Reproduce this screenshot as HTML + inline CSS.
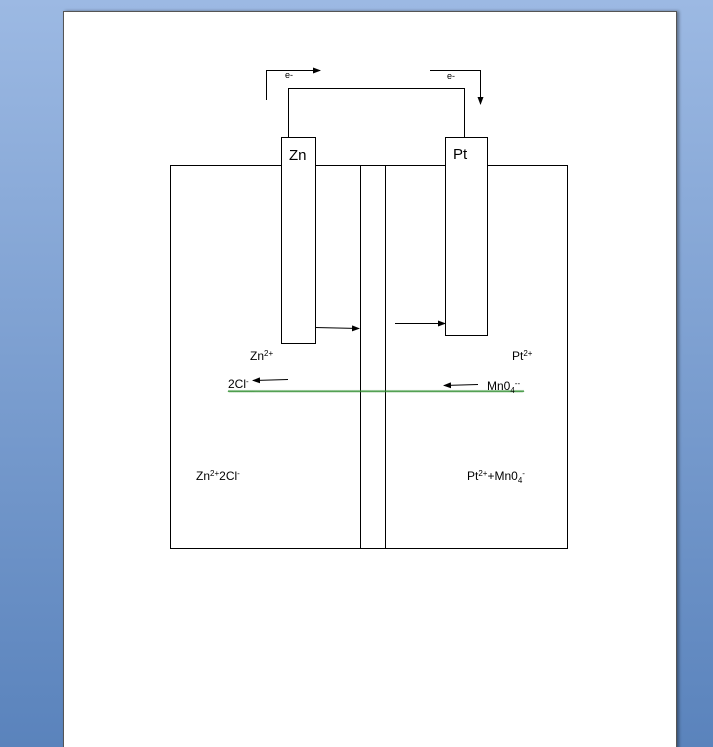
<!DOCTYPE html>
<html><head><meta charset="utf-8"><style>
html,body{margin:0;padding:0;width:713px;height:747px;overflow:hidden;background:linear-gradient(#9cb9e3,#5a83bc);position:relative}
.page{position:absolute;left:63px;top:11px;width:612px;height:740px;background:#fff;border:1px solid #555;border-bottom:none;box-shadow:2px 0 3px rgba(0,0,0,0.4);}
svg{position:absolute;left:0;top:0}
text{font-family:"Liberation Sans",sans-serif;fill:#000}
</style></head><body>
<div class="page"></div>
<svg width="713" height="747" viewBox="0 0 713 747">
<defs><marker id="a" markerWidth="8" markerHeight="6" refX="7" refY="3" orient="auto" markerUnits="userSpaceOnUse"><path d="M0,0L8,3L0,6z" fill="#000"/></marker></defs>
<g stroke="#000" stroke-width="1" fill="none">
<rect x="170.5" y="165.5" width="397" height="383"/>
<line x1="360.5" y1="165" x2="360.5" y2="548"/>
<line x1="385.5" y1="165" x2="385.5" y2="548"/>
<rect x="281.5" y="137.5" width="34" height="206" fill="#fff"/>
<rect x="445.5" y="137.5" width="42" height="198" fill="#fff"/>
<polyline points="288.5,137 288.5,88.5 464.5,88.5 464.5,137"/>
<polyline points="266.5,100 266.5,70.5 320,70.5" marker-end="url(#a)"/>
<polyline points="430,70.5 480.5,70.5 480.5,104" marker-end="url(#a)"/>
<line x1="315" y1="327.5" x2="359" y2="328.5" marker-end="url(#a)"/>
<line x1="395" y1="323.5" x2="445" y2="323.5" marker-end="url(#a)"/>
<line x1="288" y1="379.5" x2="253" y2="380.5" marker-end="url(#a)"/>
<line x1="478" y1="384.5" x2="444" y2="385.5" marker-end="url(#a)"/>
</g>
<polyline fill="none" stroke="#2a8a2a" stroke-width="0.8" points="228,392 229,390.5 230,392 231,390.5 232,392 233,390.5 234,392 235,390.5 236,392 237,390.5 238,392 239,390.5 240,392 241,390.5 242,392 243,390.5 244,392 245,390.5 246,392 247,390.5 248,392 249,390.5 250,392 251,390.5 252,392 253,390.5 254,392 255,390.5 256,392 257,390.5 258,392 259,390.5 260,392 261,390.5 262,392 263,390.5 264,392 265,390.5 266,392 267,390.5 268,392 269,390.5 270,392 271,390.5 272,392 273,390.5 274,392 275,390.5 276,392 277,390.5 278,392 279,390.5 280,392 281,390.5 282,392 283,390.5 284,392 285,390.5 286,392 287,390.5 288,392 289,390.5 290,392 291,390.5 292,392 293,390.5 294,392 295,390.5 296,392 297,390.5 298,392 299,390.5 300,392 301,390.5 302,392 303,390.5 304,392 305,390.5 306,392 307,390.5 308,392 309,390.5 310,392 311,390.5 312,392 313,390.5 314,392 315,390.5 316,392 317,390.5 318,392 319,390.5 320,392 321,390.5 322,392 323,390.5 324,392 325,390.5 326,392 327,390.5 328,392 329,390.5 330,392 331,390.5 332,392 333,390.5 334,392 335,390.5 336,392 337,390.5 338,392 339,390.5 340,392 341,390.5 342,392 343,390.5 344,392 345,390.5 346,392 347,390.5 348,392 349,390.5 350,392 351,390.5 352,392 353,390.5 354,392 355,390.5 356,392 357,390.5 358,392 359,390.5 360,392 361,390.5 362,392 363,390.5 364,392 365,390.5 366,392 367,390.5 368,392 369,390.5 370,392 371,390.5 372,392 373,390.5 374,392 375,390.5 376,392 377,390.5 378,392 379,390.5 380,392 381,390.5 382,392 383,390.5 384,392 385,390.5 386,392 387,390.5 388,392 389,390.5 390,392 391,390.5 392,392 393,390.5 394,392 395,390.5 396,392 397,390.5 398,392 399,390.5 400,392 401,390.5 402,392 403,390.5 404,392 405,390.5 406,392 407,390.5 408,392 409,390.5 410,392 411,390.5 412,392 413,390.5 414,392 415,390.5 416,392 417,390.5 418,392 419,390.5 420,392 421,390.5 422,392 423,390.5 424,392 425,390.5 426,392 427,390.5 428,392 429,390.5 430,392 431,390.5 432,392 433,390.5 434,392 435,390.5 436,392 437,390.5 438,392 439,390.5 440,392 441,390.5 442,392 443,390.5 444,392 445,390.5 446,392 447,390.5 448,392 449,390.5 450,392 451,390.5 452,392 453,390.5 454,392 455,390.5 456,392 457,390.5 458,392 459,390.5 460,392 461,390.5 462,392 463,390.5 464,392 465,390.5 466,392 467,390.5 468,392 469,390.5 470,392 471,390.5 472,392 473,390.5 474,392 475,390.5 476,392 477,390.5 478,392 479,390.5 480,392 481,390.5 482,392 483,390.5 484,392 485,390.5 486,392 487,390.5 488,392 489,390.5 490,392 491,390.5 492,392 493,390.5 494,392 495,390.5 496,392 497,390.5 498,392 499,390.5 500,392 501,390.5 502,392 503,390.5 504,392 505,390.5 506,392 507,390.5 508,392 509,390.5 510,392 511,390.5 512,392 513,390.5 514,392 515,390.5 516,392 517,390.5 518,392 519,390.5 520,392 521,390.5 522,392 523,390.5 524,392"/>
<text x="289" y="160" font-size="15">Zn</text>
<text x="453" y="159" font-size="15">Pt</text>
<text x="285" y="78" font-size="9">e-</text>
<text x="447" y="79" font-size="9">e-</text>
<text x="250" y="360" font-size="12">Zn<tspan font-size="8" dy="-4">2+</tspan></text>
<text x="512" y="360" font-size="12">Pt<tspan font-size="8" dy="-4">2+</tspan></text>
<text x="228" y="388" font-size="12">2Cl<tspan font-size="8" dy="-4">-</tspan></text>
<text x="487" y="390" font-size="12">Mn0<tspan font-size="8" dy="3">4</tspan><tspan font-size="8" dy="-7">--</tspan></text>
<text x="196" y="480" font-size="12">Zn<tspan font-size="8" dy="-4">2+</tspan><tspan dy="4">2Cl</tspan><tspan font-size="8" dy="-4">-</tspan></text>
<text x="467" y="480" font-size="12">Pt<tspan font-size="8" dy="-4">2+</tspan><tspan dy="4">+Mn0</tspan><tspan font-size="8" dy="3">4</tspan><tspan font-size="8" dy="-7">-</tspan></text>
</svg>
</body></html>
